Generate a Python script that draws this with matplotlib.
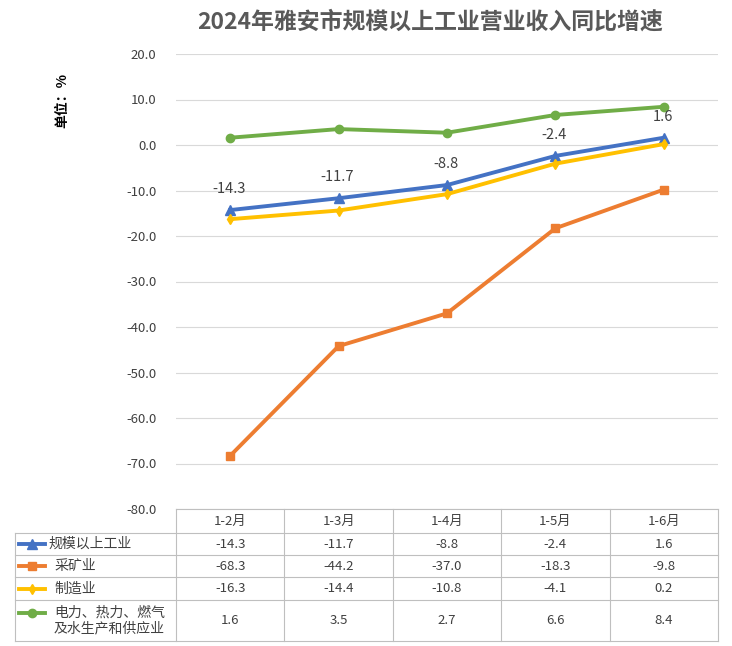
import matplotlib
matplotlib.use("Agg")
import matplotlib.pyplot as plt
from matplotlib.lines import Line2D

plt.rcParams['font.family'] = ['Noto Sans CJK SC', 'DejaVu Sans']

categories = ["1-2月", "1-3月", "1-4月", "1-5月", "1-6月"]
series_names = ["规模以上工业", "采矿业", "制造业", "电力、热力、燃气\n及水生产和供应业"]
total = [-14.3, -11.7, -8.8, -2.4, 1.6]
mining = [-68.3, -44.2, -37.0, -18.3, -9.8]
manuf = [-16.3, -14.4, -10.8, -4.1, 0.2]
power = [1.6, 3.5, 2.7, 6.6, 8.4]
yticks = [20, 10, 0, -10, -20, -30, -40, -50, -60, -70, -80]

series = [total, mining, manuf, power]
colors = ["#4472C4", "#ED7D31", "#FFC000", "#70AD47"]
markers = ["^", "s", "d", "o"]
msizes = [7, 6, 5, 6]

W, H = 732, 646
fig = plt.figure(figsize=(W/100, H/100), dpi=100)
L, R, T, B = 176, 718, 54, 509
ax = fig.add_axes([L/W, 1-B/H, (R-L)/W, (B-T)/H])
x = list(range(len(categories)))
for s, c, m, ms in zip(series, colors, markers, msizes):
    ax.plot(x, s, color=c, lw=2.8, marker=m, ms=ms, zorder=3)
for i, v in enumerate(total):
    ax.text(i - 0.01, v + 4.6, f"{v:.1f}", ha="center", va="center", fontsize=10.5, color="#404040")
ax.set_xlim(-0.5, 4.5)
ax.set_ylim(-80, 20)
ax.set_yticks(yticks)
ax.set_yticklabels([f"{v:.1f}" for v in yticks], fontsize=9.5, color="#404040")
ax.set_xticks([])
ax.grid(axis="y", color="#D9D9D9", lw=0.8)
for sp in ax.spines.values():
    sp.set_visible(False)
ax.tick_params(axis="y", length=0, pad=14)
fig.text(62/W, 1-100/H, "单位：%", rotation=90, ha="center", va="center", fontsize=10, fontweight="bold")
fig.text(430/W, 1-22/H, "2024年雅安市规模以上工业营业收入同比增速", ha="center", va="center",
         fontsize=16.5, fontweight="bold", color="#595959")

# table
tab = fig.add_axes([0, 0, 1, 1])
tab.set_xlim(0, W); tab.set_ylim(H, 0); tab.axis("off")
gc = "#BFBFBF"
rows = [509, 533, 555, 577, 600, 641]
colw = (R - L) / 5
for yy in rows[1:]:
    tab.plot([15, R], [yy, yy], color=gc, lw=0.8)
tab.plot([L, R], [rows[0], rows[0]], color=gc, lw=0.8)
tab.plot([15, 15], [rows[1], rows[-1]], color=gc, lw=0.8)
for k in range(6):
    xx = L + k*colw
    tab.plot([xx, xx], [rows[0], rows[-1]], color=gc, lw=0.8)
for k, c in enumerate(categories):
    tab.text(L + (k+0.5)*colw, (rows[0]+rows[1])/2, c, ha="center", va="center", fontsize=9.5, color="#404040")
for r, (s, name, c, m, ms) in enumerate(zip(series, series_names, colors, markers, msizes)):
    yc = (rows[r+1] + rows[r+2]) / 2
    tab.add_line(Line2D([19, 45], [yc - (8 if r == 3 else 0)]*2, color=c, lw=2.8))
    tab.plot([32], [yc - (8 if r == 3 else 0)], marker=m, color=c, ms=ms)
    tab.text(48 if r == 0 else 54, yc, name, ha="left", va="center", fontsize=10, color="#404040", linespacing=1.2)
    for k, v in enumerate(s):
        tab.text(L + (k+0.5)*colw, yc, f"{v:.1f}", ha="center", va="center", fontsize=9.5, color="#404040")

fig.savefig("out.png", dpi=100)
